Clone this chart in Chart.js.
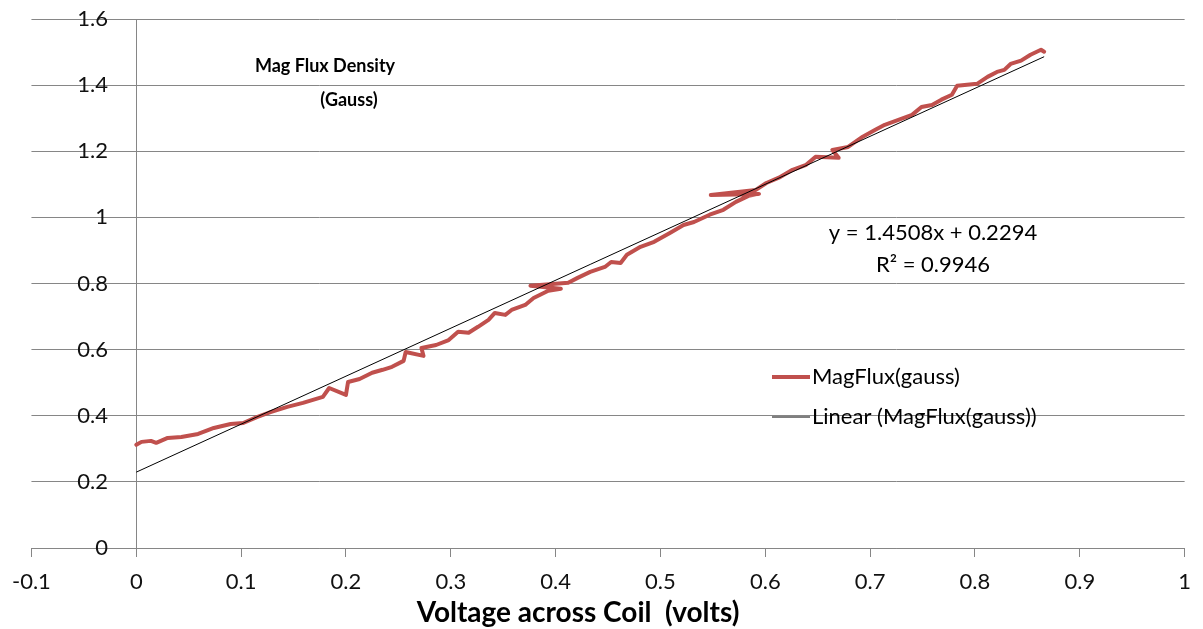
<!DOCTYPE html>
<html>
<head>
<meta charset="utf-8">
<script src="https://cdn.jsdelivr.net/npm/chart.js@4.4.0/dist/chart.umd.min.js"></script>
<style>
    html, body { margin: 0; padding: 0; background: #fff; }
    #caixa { width: 1203px; height: 629px; }
</style>
</head>
<body>
<div id="caixa"><canvas id="grafico"></canvas></div>
<script>
// 🔹 Dados (tensão em volts, fluxo em gauss)
const voltagem = [
    0.000, 0.005, 0.014, 0.019, 0.030, 0.043, 0.059, 0.074, 0.090, 0.102,
    0.115, 0.128, 0.144, 0.159, 0.178, 0.184, 0.200, 0.202, 0.213, 0.225,
    0.235, 0.244, 0.255, 0.257, 0.274, 0.272, 0.286, 0.298, 0.307, 0.317,
    0.326, 0.336, 0.342, 0.352, 0.358, 0.371, 0.379, 0.393, 0.405, 0.376,
    0.412, 0.421, 0.433, 0.447, 0.453, 0.462, 0.468, 0.481, 0.494, 0.509,
    0.522, 0.532, 0.547, 0.560, 0.572, 0.584, 0.594, 0.548, 0.591, 0.601,
    0.613, 0.626, 0.639, 0.648, 0.670, 0.664, 0.679, 0.693, 0.705, 0.714,
    0.727, 0.740, 0.749, 0.759, 0.768, 0.778, 0.783, 0.802, 0.812, 0.821,
    0.828, 0.834, 0.844, 0.853, 0.863, 0.866
];
const fluxo = [
    0.312, 0.321, 0.324, 0.318, 0.333, 0.336, 0.345, 0.363, 0.375, 0.378,
    0.396, 0.411, 0.427, 0.439, 0.457, 0.484, 0.463, 0.502, 0.511, 0.530,
    0.539, 0.548, 0.566, 0.593, 0.581, 0.605, 0.614, 0.629, 0.654, 0.651,
    0.669, 0.690, 0.711, 0.705, 0.720, 0.735, 0.756, 0.778, 0.784, 0.793,
    0.802, 0.817, 0.835, 0.850, 0.865, 0.862, 0.887, 0.911, 0.926, 0.953,
    0.977, 0.986, 1.008, 1.023, 1.047, 1.065, 1.071, 1.068, 1.083, 1.104,
    1.120, 1.144, 1.159, 1.183, 1.180, 1.204, 1.213, 1.244, 1.265, 1.280,
    1.295, 1.310, 1.334, 1.340, 1.356, 1.371, 1.398, 1.404, 1.425, 1.440,
    1.446, 1.464, 1.474, 1.492, 1.507, 1.501
];

// 🔹 Linha de tendência (extremos)
const tendenciaX = [0, 0.866];
const tendenciaY = [0.2294, 1.486];

// 🔹 Marcas dos eixos
const ticksX = [-0.1, 0, 0.1, 0.2, 0.3, 0.4, 0.5, 0.6, 0.7, 0.8, 0.9, 1];
const ticksY = [0, 0.2, 0.4, 0.6, 0.8, 1, 1.2, 1.4, 1.6];

// 🔹 Textos
const nomesSeries = ['MagFlux(gauss)', 'Linear (MagFlux(gauss))'];
const equacao = ['y = 1.4508x + 0.2294', 'R² = 0.9946'];
const tituloY = ['Mag Flux Density', '(Gauss)'];
const tituloX = 'Voltage across Coil  (volts)';

const cinza = '#868686';
const fonte = 'Lato';

function pares(xs, ys) {
    return xs.map((x, i) => ({ x: x, y: ys[i] }));
}

// ✅ Textos soltos + legenda dentro da área do gráfico
const textos = {
    id: 'textos',
    afterDraw(chart) {
        const ctx = chart.ctx;
        ctx.save();
        ctx.fillStyle = '#000';
        ctx.textBaseline = 'middle';
        ctx.textAlign = 'center';

        ctx.font = 'bold 18px ' + fonte;
        ctx.fillText(tituloY[0], 325, 66);
        ctx.fillText(tituloY[1], 349, 100);

        ctx.font = 'bold 28px ' + fonte;
        ctx.fillText(tituloX, 578, 613);

        ctx.font = '22px ' + fonte;
        ctx.fillText(equacao[0], 933, 233);
        ctx.fillText(equacao[1], 933, 265);

        // legenda
        const linhas = [377, 417];
        ctx.textAlign = 'left';
        chart.data.datasets.forEach((ds, i) => {
            ctx.beginPath();
            ctx.strokeStyle = ds.borderColor;
            ctx.lineWidth = ds.borderWidth;
            ctx.moveTo(772, linhas[i]);
            ctx.lineTo(810, linhas[i]);
            ctx.stroke();
            ctx.fillText(ds.label, 812, linhas[i]);
        });
        ctx.restore();
    }
};

const ctx = document.getElementById('grafico').getContext('2d');

const grafico = new Chart(ctx, {
    type: 'scatter',
    data: {
        datasets: [{
            label: nomesSeries[0],
            data: pares(voltagem, fluxo),
            showLine: true,
            borderColor: '#c0504d',
            backgroundColor: '#c0504d',
            borderWidth: 4,
            borderJoinStyle: 'round',
            borderCapStyle: 'round',
            pointRadius: 0,
            tension: 0,
            order: 1
        }, {
            label: nomesSeries[1],
            data: pares(tendenciaX, tendenciaY),
            showLine: true,
            borderColor: '#000000',
            backgroundColor: '#000000',
            borderWidth: 1,
            pointRadius: 0,
            order: 0
        }]
    },
    options: {
        responsive: true,
        maintainAspectRatio: false,
        animation: false,
        layout: {
            padding: { left: 31, right: 12, top: 19, bottom: 0 }
        },
        plugins: {
            legend: { display: false },
            tooltip: { enabled: false }
        },
        scales: {
            x: {
                type: 'linear',
                min: -0.1,
                max: 1,
                afterBuildTicks: s => { s.ticks = ticksX.map(v => ({ value: v })); },
                afterFit: s => { s.height = 81; s.paddingTop = 0; },
                // só a linha vertical em x = 0 aparece dentro do gráfico
                grid: {
                    drawOnChartArea: true,
                    drawTicks: true,
                    tickLength: 9,
                    tickColor: cinza,
                    color: c => (c.tick && c.tick.value === 0) ? cinza : 'rgba(0,0,0,0)'
                },
                border: { color: cinza, width: 1 },
                ticks: {
                    color: '#111',
                    font: { family: fonte, size: 22 },
                    padding: 12,
                    maxRotation: 0,
                    autoSkip: false,
                    callback: v => String(v)
                }
            },
            y: {
                type: 'linear',
                min: 0,
                max: 1.6,
                // rótulos encostados um pouco à esquerda do eixo x = 0
                position: { x: -0.027 },
                afterBuildTicks: s => { s.ticks = ticksY.map(v => ({ value: v })); },
                afterFit: s => { s.width = 0; s.paddingTop = 0; s.paddingBottom = 0; },
                grid: { color: cinza, drawTicks: false },
                border: { display: false },
                ticks: {
                    color: '#111',
                    font: { family: fonte, size: 22 },
                    autoSkip: false,
                    callback: v => String(v)
                }
            }
        }
    },
    plugins: [textos]
});
</script>
</body>
</html>
